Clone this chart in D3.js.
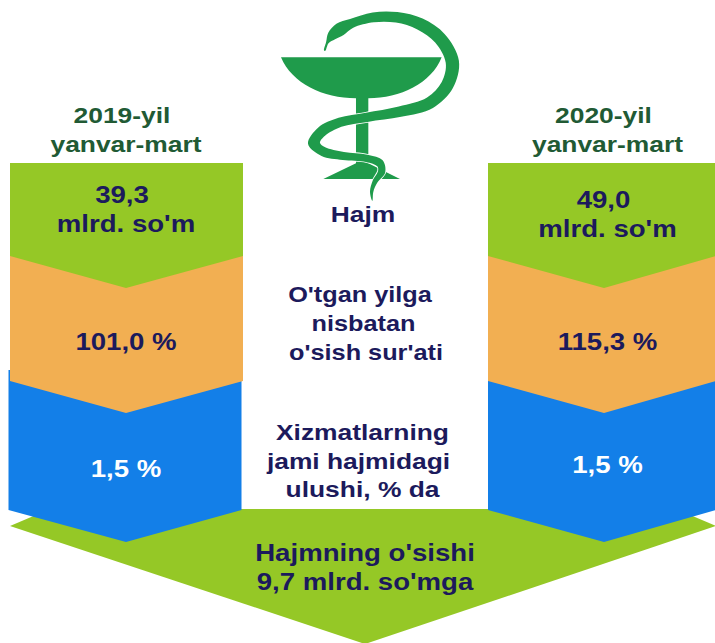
<!DOCTYPE html>
<html>
<head>
<meta charset="utf-8">
<script src="https://cdn.jsdelivr.net/npm/d3@7"></script>
<style>
  html, body { margin: 0; padding: 0; background: #fff; }
  text { font-family: "Liberation Sans", Arial, sans-serif; font-weight: bold; }
</style>
</head>
<body>
<svg id="chart" width="715" height="643" style="display:block"></svg>
<script>
const periods = ["2019-yil", "2020-yil"];
const periodSub = "yanvar-mart";
const volumeValues = ["39,3", "49,0"];
const volumeUnit = "mlrd. so'm";
const growthValues = ["101,0 %", "115,3 %"];
const shareValues = ["1,5 %", "1,5 %"];
const centerLabels = [["Hajm"], ["O'tgan yilga", "nisbatan", "o'sish sur'ati"], ["Xizmatlarning", "jami hajmidagi", "ulushi, % da"]];
const footerLabels = ["Hajmning o'sishi", "9,7 mlrd. so'mga"];

const colors = {
    green: "#95c826",
    orange: "#f2af52",
    blue: "#137fe8",
    navy: "#1c1a5c",
    title: "#215a34",
    icon: "#1f9b4b"
};

const svg = d3.select("#chart");
const line = d3.line();

// left and right columns, band edges are the y of the chevron sides
const columns = [
    { left: 10, right: 243, tip: 126, blueLeft: 8.5, blueRight: 241.5, textX: 126, volumeY: 203, shareY: 477 },
    { left: 488, right: 716, tip: 604, blueLeft: 488, blueRight: 716, textX: 607.5, volumeY: 208, shareY: 473 }
];
const chevron = 32;

function band(x0, x1, tip, top, bottom) {
    return line([[x0, top], [x1, top], [x1, bottom], [tip, bottom + chevron], [x0, bottom]]) + "Z";
}

// the source type is wider than Arial, so stretch it sideways
function label(s, x, y, size, fill, stretch = 1.2) {
    svg.append("text")
        .attr("text-anchor", "middle")
        .attr("font-size", size)
        .attr("fill", fill)
        .attr("transform", `translate(${x},${y}) scale(${stretch},1)`)
        .text(s);
}

// bottom arrow goes first, the blue tips sit over it
svg.append("path")
    .attr("d", line([[10, 526], [50, 509], [676, 509], [716, 526], [365, 644]]) + "Z")
    .attr("fill", colors.green);

columns.forEach((c, i) => {
    svg.append("path")
        .attr("d", band(c.blueLeft, c.blueRight, c.tip, 370, 510))
        .attr("fill", colors.blue);
    svg.append("path")
        .attr("d", band(c.left, c.right, c.tip, 250, 381))
        .attr("fill", colors.orange);
    svg.append("path")
        .attr("d", band(c.left, c.right, c.tip, 163, 256))
        .attr("fill", colors.green);

    label(periods[i], c.textX - 4, 123, 22, colors.title);
    label(periodSub, c.textX, 152, 22, colors.title);
    label(volumeValues[i], c.textX - 4, c.volumeY, 23, colors.navy);
    label(volumeUnit, c.textX, c.volumeY + 29, 23, colors.navy);
    label(growthValues[i], c.textX, 350, 23, colors.navy);
    label(shareValues[i], c.textX, c.shareY, 23, "#fff");
});

label(centerLabels[0][0], 363, 222, 22, colors.navy);
[360, 363.5, 366].forEach((x, i) => label(centerLabels[1][i], x, 302 + i * 29, 22, colors.navy, 1.15));
[362.5, 358.5, 362.5].forEach((x, i) => label(centerLabels[2][i], x, 440 + i * 28.5, 22, colors.navy));
footerLabels.forEach((s, i) => label(s, 365, 561 + i * 29, 23, colors.navy));

// bowl of hygieia icon, drawn in the 3x crop coordinates
const icon = svg.append("g").attr("transform", "translate(240,0) scale(0.3333)");

icon.append("path")
    .attr("d", "M123,172 L605,172 C575,250 480,295 385,295 L385,490 L480,537 L250,537 L348,490 L348,295 C250,295 155,250 123,172 Z")
    .attr("fill", colors.icon);

// snake: centre line with a width at each point, offset both ways
const snake = [
    [254, 152, 4], [262, 128, 8], [275, 108, 28], [300, 88, 40], [335, 70, 28], [400, 52, 30],
    [470, 52, 32], [540, 72, 36], [600, 115, 38], [637, 185, 40], [622, 255, 38], [570, 308, 36],
    [480, 335, 32], [380, 352, 28], [300, 367, 28], [245, 395, 32], [222, 430, 36], [250, 455, 28],
    [310, 468, 24], [380, 475, 22], [420, 490, 24], [425, 515, 22], [405, 545, 15], [395, 575, 10], [397, 602, 1]
];
const sideA = [], sideB = [];
snake.forEach((p, i) => {
    const a = snake[Math.max(i - 1, 0)], b = snake[Math.min(i + 1, snake.length - 1)];
    const dx = b[0] - a[0], dy = b[1] - a[1], n = Math.hypot(dx, dy);
    sideA.push([p[0] - dy / n * p[2] / 2, p[1] + dx / n * p[2] / 2]);
    sideB.push([p[0] + dy / n * p[2] / 2, p[1] - dx / n * p[2] / 2]);
});
icon.append("path")
    .attr("d", d3.line().curve(d3.curveCatmullRomClosed)(sideA.concat(sideB.reverse())))
    .attr("fill", colors.icon)
    .attr("stroke", "#fff")
    .attr("stroke-width", 5)
    .attr("paint-order", "stroke");
</script>
</body>
</html>
